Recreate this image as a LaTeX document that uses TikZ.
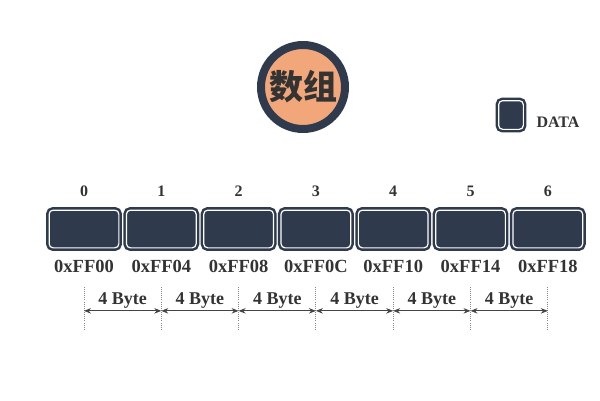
\documentclass[tikz,border=0pt]{standalone}
\usepackage{fontspec}
\setmainfont{Liberation Serif}
\newfontfamily\cjk{Noto Sans CJK SC}
\usepackage{xcolor}
\usetikzlibrary{positioning,calc,arrows.meta}
\definecolor{navy}{HTML}{2F3A4D}
\definecolor{peach}{HTML}{F2A77A}
\definecolor{darktext}{HTML}{333333}
\definecolor{guidegray}{HTML}{8A8A8A}
\definecolor{arrowgray}{HTML}{444444}

\begin{document}
\begin{tikzpicture}[x=1pt, y=-1pt,
    cell/.style={rectangle, rounded corners=4pt, fill=navy, draw=navy, line width=2.5pt, double=white, double distance=1.2pt, minimum width=69.7pt, minimum height=37.7pt, inner sep=0pt, outer sep=0pt},
    idx/.style={inner sep=0pt, text=darktext, font=\bfseries\fontsize{16}{16}\selectfont},
    addr/.style={inner sep=0pt, text=darktext, font=\bfseries\fontsize{18.5}{18.5}\selectfont},
    bytelbl/.style={midway, anchor=base, yshift=6pt, inner sep=0pt, text=darktext, font=\bfseries\fontsize{18}{18}\selectfont},
    guide/.style={draw=guidegray, line width=1pt, dash pattern=on 0.9pt off 1.2pt},
    span/.style={{Stealth[length=7pt,width=5.5pt]}-{Stealth[length=7pt,width=5.5pt]}, draw=arrowgray, line width=0.8pt},
    title/.style={circle, fill=peach, draw=navy, line width=8pt, minimum size=84pt, inner sep=0pt, text=darktext, font=\cjk\bfseries\fontsize{34}{34}\selectfont}]
    \useasboundingbox (0,0) rectangle (600,400);

    % title and legend
    \node [title] (title) at (303,87) {数组};
    \node [cell, minimum width=24.7pt, minimum height=28.7pt] (legend) at (511,115) {};
    \node [idx, right=13pt of legend, yshift=-7pt] (legendtxt) {DATA};

    % array cells
    \node [cell] (cell0) at (84,229) {};
    \foreach \i [count=\j from 0] in {1,...,6}
        \node [cell, right=7.6pt of cell\j] (cell\i) {};

    \foreach \i/\addr in {0/00,1/04,2/08,3/0C,4/10,5/14,6/18} {
        \node [idx, above=13pt of cell\i] (idx\i) {\i};
        \node [addr, below=12.5pt of cell\i] (addr\i) {0xFF\addr};
        \path (cell\i.south) ++(0,39) coordinate (t\i) ++(0,24) coordinate (m\i) ++(0,19) coordinate (b\i);
        \draw [guide] (t\i) -- (b\i);
    }

    % sizes
    \foreach \i [count=\j from 0] in {1,...,6}
        \draw [span] (m\j) -- node [bytelbl] {4 Byte} (m\i);
\end{tikzpicture}
\end{document}
